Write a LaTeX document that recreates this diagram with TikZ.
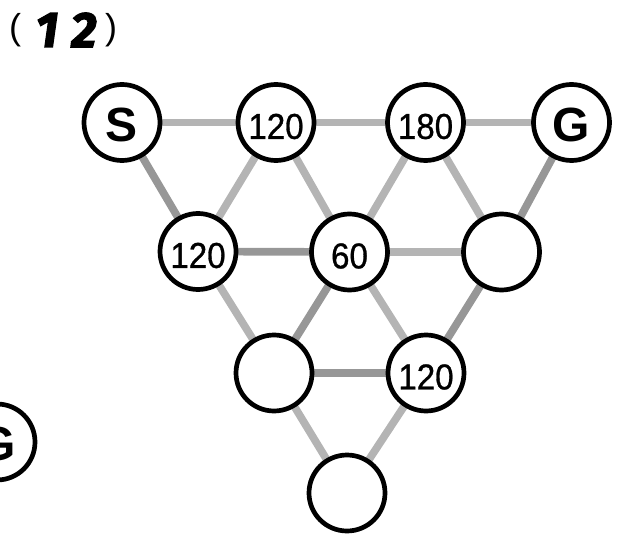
\documentclass[tikz,border=0pt]{standalone}
\usepackage{fontspec}
\setmainfont{Liberation Sans}
\newfontfamily\numfont[FakeStretch=0.92,FakeBold=0.8]{Liberation Sans}
\newfontfamily\titlefont{Fira Sans}[BoldItalicFeatures={FakeBold=2.5}]
\usetikzlibrary{backgrounds}
\definecolor{edgelight}{HTML}{B4B4B4}
\definecolor{edgedark}{HTML}{979797}
\tikzset{
  stn/.style={circle, draw=black, line width=4.7pt, fill=white, minimum size=76pt, inner sep=0pt},
  numlbl/.style={font=\numfont\fontsize{36}{36}\selectfont, inner sep=0pt, yshift=-4pt},
  letlbl/.style={font=\bfseries\fontsize{48}{48}\selectfont, inner sep=0pt, yshift=-2pt},
  lite/.style={draw=edgelight, line width=7.7pt},
  dark/.style={draw=edgedark, line width=7.7pt},
  ttl/.style={inner sep=0pt},
  ttlnum/.style={inner sep=0pt, font=\titlefont\bfseries\itshape\fontsize{50}{50}\selectfont}
}
\begin{document}
\begin{tikzpicture}[x=1pt, y=-1pt]
\useasboundingbox (0,0) rectangle (617,534);
\clip (0,0) rectangle (617,534);
% title
\node[ttl, font=\fontsize{36}{36}\selectfont] (po) at (15,30) {(};
\node[ttlnum] (t1n) at (47,30) {1};
\node[ttlnum] (t2n) at (84,30) {2};
\node[ttl, font=\fontsize{36}{36}\selectfont] (pc) at (111,30) {)};
% stations
\node[stn, label={[letlbl]center:S}] (s) at (122,122.5) {};
\node[stn, label={[numlbl]center:120}] (t2) at (276,122.5) {};
\node[stn, label={[numlbl]center:180}] (t3) at (425.5,122.5) {};
\node[stn, label={[letlbl]center:G}] (g) at (571.5,122.5) {};
\node[stn, label={[numlbl]center:120}] (m1) at (198,251.5) {};
\node[stn, label={[numlbl]center:60}] (m2) at (349.5,252) {};
\node[stn] (m3) at (501.5,252) {};
\node[stn] (b1) at (274,373) {};
\node[stn, label={[numlbl]center:120}] (b2) at (426,373) {};
\node[stn] (z) at (347,493) {};
\node[stn, label={[letlbl]center:G}] (gl) at (-3,442) {};
% edges
\begin{scope}[on background layer]
\draw[lite] (s.center) -- (t2.center);
\draw[lite] (t2.center) -- (t3.center);
\draw[lite] (t3.center) -- (g.center);
\draw[lite] (t2.center) -- (m1.center);
\draw[lite] (t2.center) -- (m2.center);
\draw[lite] (t3.center) -- (m2.center);
\draw[lite] (t3.center) -- (m3.center);
\draw[lite] (m2.center) -- (m3.center);
\draw[lite] (m1.center) -- (b1.center);
\draw[lite] (m2.center) -- (b2.center);
\draw[lite] (b1.center) -- (z.center);
\draw[lite] (b2.center) -- (z.center);
\draw[dark] (s.center) -- (m1.center);
\draw[dark] (m1.center) -- (m2.center);
\draw[dark] (g.center) -- (m3.center);
\draw[dark] (m2.center) -- (b1.center);
\draw[dark] (m3.center) -- (b2.center);
\draw[dark] (b1.center) -- (b2.center);
\end{scope}
\end{tikzpicture}
\end{document}
